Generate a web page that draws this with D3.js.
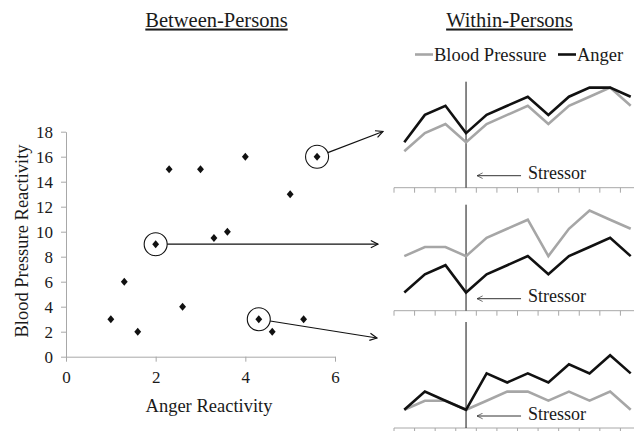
<!DOCTYPE html>
<html>
<head>
<meta charset="utf-8">
<script src="https://cdn.jsdelivr.net/npm/d3@7"></script>
<style>
  body { margin: 0; background: #fff; }
  svg text { font-family: "Liberation Serif", "Tinos", "DejaVu Serif"; fill: #1a1a1a; }
</style>
</head>
<body>
<div id="chart"></div>
<script>
// between-persons scatter
const angerReact = [1, 1.3, 1.6, 2, 2.3, 2.6, 3, 3.3, 3.6, 4, 4.3, 4.6, 5, 5.3, 5.6];
const bpReact    = [3, 6, 2, 9, 15, 4, 15, 9.5, 10, 16, 3, 2, 13, 3, 16];
const highlighted = [14, 3, 10];   // indexes of circled persons, top -> bottom panel
const xTicks = [0, 2, 4, 6];
const yTicks = [0, 2, 4, 6, 8, 10, 12, 14, 16, 18];

// within-persons time series (12 occasions, stressor at occasion 4)
const occasions = d3.range(12);
const stressorAt = 3;
const bpSeries = [
    [4, 6, 7, 5, 7, 8, 9, 7, 9, 10, 11, 9],
    [6, 7, 7, 6, 8, 9, 10, 6, 9, 11, 10, 9],
    [2, 3, 3, 2, 3, 4, 4, 3, 4, 3, 4, 2]
];
const angerSeries = [
    [5, 8, 9, 6, 8, 9, 10, 8, 10, 11, 11, 10],
    [2, 4, 5, 2, 4, 5, 6, 4, 6, 7, 8, 6],
    [2, 4, 3, 2, 6, 5, 6, 5, 7, 6, 8, 6]
];

const W = 634, H = 431;
const axisColor = '#a8a8a8';
const bpColor = '#a6a6a6';
const serif = '"Liberation Serif", Tinos, "DejaVu Serif"';

const svg = d3.select('#chart').append('svg')
    .attr('width', W)
    .attr('height', H)
    .attr('font-family', serif);

const defs = svg.append('defs');
defs.append('marker').attr('id', 'head')
    .attr('viewBox', '0 0 10 10').attr('refX', 9).attr('refY', 5)
    .attr('markerWidth', 9).attr('markerHeight', 9).attr('markerUnits', 'userSpaceOnUse')
    .attr('orient', 'auto')
    .append('path').attr('d', 'M1,1 L9,5 L1,9')
    .attr('fill', 'none').attr('stroke', '#111').attr('stroke-width', 1.3);
defs.append('marker').attr('id', 'headSmall')
    .attr('viewBox', '0 0 10 10').attr('refX', 9).attr('refY', 5)
    .attr('markerWidth', 7).attr('markerHeight', 7).attr('markerUnits', 'userSpaceOnUse')
    .attr('orient', 'auto')
    .append('path').attr('d', 'M1,1 L9,5 L1,9')
    .attr('fill', 'none').attr('stroke', '#333').attr('stroke-width', 1);

// titles
const titles = [{t: 'Between-Persons', x: 216.5}, {t: 'Within-Persons', x: 509.5}];
titles.forEach(d => {
    svg.append('text')
        .attr('x', d.x).attr('y', 26.5)
        .attr('text-anchor', 'middle')
        .style('font-size', '20.5px')
        .style('text-decoration', 'underline')
        .text(d.t);
});

// ---- scatter ----
const x = d3.scaleLinear().domain([0, 6]).range([66, 335]);
const y = d3.scaleLinear().domain([0, 18]).range([356.7, 131.7]);

const xAxis = svg.append('g').attr('class', 'axis axis-x')
    .attr('transform', `translate(0, ${y(0)})`)
    .call(d3.axisBottom(x).tickValues(xTicks).tickFormat(d3.format('d'))
        .tickSize(5).tickSizeOuter(0).tickPadding(8));
const yAxis = svg.append('g').attr('class', 'axis axis-y')
    .attr('transform', `translate(${x(0)}, 0)`)
    .call(d3.axisLeft(y).tickValues(yTicks).tickFormat(d3.format('d'))
        .tickSize(5).tickSizeOuter(0).tickPadding(8));

[xAxis, yAxis].forEach(a => {
    a.attr('font-family', serif).attr('font-size', 17);
    a.select('.domain').attr('stroke', axisColor);
    a.selectAll('.tick line').attr('stroke', axisColor);
    a.selectAll('.tick text').attr('fill', '#1a1a1a');
});
xAxis.selectAll('.tick text').attr('dy', '0.8em');
yAxis.selectAll('.tick text').attr('dy', '0.35em');

svg.append('text')
    .attr('x', 209).attr('y', 411.5)
    .attr('text-anchor', 'middle')
    .style('font-size', '18.5px')
    .text('Anger Reactivity');
svg.append('text')
    .attr('transform', 'translate(28, 241) rotate(-90)')
    .attr('text-anchor', 'middle')
    .style('font-size', '18.5px')
    .text('Blood Pressure Reactivity');

const diamond = d3.symbol().type(d3.symbolDiamond2).size(30);
svg.append('g').attr('class', 'points')
    .selectAll('path')
    .data(angerReact.map((a, i) => ({a, b: bpReact[i]})))
    .enter().append('path')
    .attr('d', diamond)
    .attr('transform', d => `translate(${x(d.a)}, ${y(d.b)}) scale(1, 1.15)`)
    .attr('fill', '#111');

// ---- within-person panels ----
const panelBottoms = [187.7, 310.7, 428];
const panelH = 106;
const xb = d3.scaleBand().domain(occasions).range([394, 641]).padding(0);
const arrowEnds = [[383, 131.5], [378, 244.2], [377, 338]];

panelBottoms.forEach((bottom, p) => {
    const yp = d3.scaleLinear().domain([0, panelH / 9.1]).range([bottom, bottom - panelH]);
    const g = svg.append('g').attr('class', 'panel');
    const cx = i => xb(i) + xb.bandwidth() / 2;

    // category axis with ticks at band boundaries
    g.append('line')
        .attr('x1', xb.range()[0]).attr('x2', W)
        .attr('y1', bottom).attr('y2', bottom)
        .attr('stroke', axisColor);
    g.selectAll('.tk').data(d3.range(occasions.length + 1)).enter().append('line')
        .attr('class', 'tk')
        .attr('x1', i => xb.range()[0] + i * xb.step())
        .attr('x2', i => xb.range()[0] + i * xb.step())
        .attr('y1', bottom).attr('y2', bottom + 5)
        .attr('stroke', axisColor);

    // stressor marker
    g.append('line')
        .attr('x1', cx(stressorAt)).attr('x2', cx(stressorAt))
        .attr('y1', bottom - panelH).attr('y2', bottom)
        .attr('stroke', '#111').attr('stroke-width', 1);
    g.append('line')
        .attr('x1', cx(stressorAt) + 55).attr('x2', cx(stressorAt) + 11)
        .attr('y1', bottom - 12).attr('y2', bottom - 12)
        .attr('stroke', '#333').attr('stroke-width', 1)
        .attr('marker-end', 'url(#headSmall)');
    g.append('text')
        .attr('x', cx(stressorAt) + 62).attr('y', bottom - 8.5)
        .style('font-size', '18px')
        .text('Stressor');

    const line = d3.line().x((d, i) => cx(i)).y(d => yp(d));
    g.append('path').datum(bpSeries[p])
        .attr('d', line)
        .attr('fill', 'none').attr('stroke', bpColor).attr('stroke-width', 2.6)
        .attr('stroke-linejoin', 'miter');
    g.append('path').datum(angerSeries[p])
        .attr('d', line)
        .attr('fill', 'none').attr('stroke', '#111').attr('stroke-width', 2.6)
        .attr('stroke-linejoin', 'miter');

    // circle around the person in the scatter and arrow to the panel
    const idx = highlighted[p];
    const px = x(angerReact[idx]), py = y(bpReact[idx]);
    const r = 11.5;
    svg.append('circle')
        .attr('cx', px).attr('cy', py).attr('r', r)
        .attr('fill', 'none').attr('stroke', '#111').attr('stroke-width', 1.1);
    const [ex, ey] = arrowEnds[p];
    const ang = Math.atan2(ey - py, ex - px);
    svg.append('line')
        .attr('x1', px + r * Math.cos(ang)).attr('y1', py + r * Math.sin(ang))
        .attr('x2', ex).attr('y2', ey)
        .attr('stroke', '#111').attr('stroke-width', 1.2)
        .attr('marker-end', 'url(#head)');
});

// legend
const legend = svg.append('g').attr('class', 'legend');
const items = [
    {label: 'Blood Pressure', color: bpColor, x: 415},
    {label: 'Anger', color: '#111', x: 558}
];
items.forEach(d => {
    legend.append('line')
        .attr('x1', d.x).attr('x2', d.x + 18)
        .attr('y1', 54.5).attr('y2', 54.5)
        .attr('stroke', d.color).attr('stroke-width', 2.6);
    legend.append('text')
        .attr('x', d.x + 19).attr('y', 60.5)
        .style('font-size', '18.5px')
        .text(d.label);
});
</script>
</body>
</html>
